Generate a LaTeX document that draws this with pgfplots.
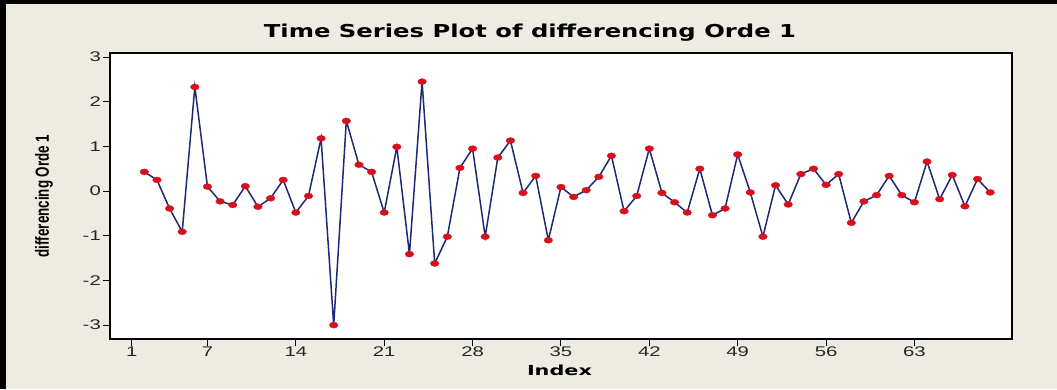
\documentclass[border=0pt]{standalone}
\usepackage{fontspec}
\setmainfont{Liberation Sans}
\newfontfamily\dejavu{DejaVu Sans}
\usepackage{pgfplots}
\pgfplotsset{compat=1.18}
\definecolor{bg}{HTML}{EEEBE2}
\definecolor{navy}{HTML}{1F2878}
\definecolor{dotred}{HTML}{D8101C}
\pgfplotstableread{
idx val
2 0.43
3 0.25
4 -0.39
5 -0.91
6 2.33
7 0.10
8 -0.23
9 -0.31
10 0.11
11 -0.35
12 -0.16
13 0.25
14 -0.48
15 -0.11
16 1.18
17 -3.00
18 1.57
19 0.59
20 0.43
21 -0.48
22 0.99
23 -1.41
24 2.45
25 -1.62
26 -1.02
27 0.52
28 0.95
29 -1.02
30 0.75
31 1.13
32 -0.04
33 0.34
34 -1.10
35 0.09
36 -0.13
37 0.02
38 0.32
39 0.79
40 -0.45
41 -0.11
42 0.95
43 -0.04
44 -0.25
45 -0.48
46 0.50
47 -0.54
48 -0.39
49 0.82
50 -0.03
51 -1.02
52 0.13
53 -0.30
54 0.38
55 0.50
56 0.14
57 0.38
58 -0.71
59 -0.23
60 -0.09
61 0.34
62 -0.09
63 -0.25
64 0.66
65 -0.18
66 0.36
67 -0.34
68 0.27
69 -0.03
}\datatable
\newcommand{\tl}[1]{\scalebox{1.45}[1]{\fontsize{14}{14}\selectfont #1}}
\begin{document}
\begin{tikzpicture}[x=1pt,y=1pt]
\fill[bg] (0,0) rectangle (1057,389);
\fill[black] (0,0) rectangle (6,389);
\fill[black] (0,385) rectangle (1057,389);
\useasboundingbox (0,0) rectangle (1057,389);
\begin{axis}[at={(110pt,50pt)}, anchor=south west, scale only axis,
  width=902pt, height=286pt,
  xmin=-0.72, xmax=70.73, ymin=-3.31, ymax=3.09,
  axis background/.style={fill=white},
  axis line style={black, line width=1.2pt},
  xtick={1,7,14,21,28,35,42,49,56,63},
  xticklabels={\tl{1},\tl{7},\tl{14},\tl{21},\tl{28},\tl{35},\tl{42},\tl{49},\tl{56},\tl{63}},
  ytick={-3,-2,-1,0,1,2,3},
  yticklabels={\tl{-3},\tl{-2},\tl{-1},\tl{0},\tl{1},\tl{2},\tl{3}},
  tick pos=left,
  tick align=outside,
  major tick length=7pt,
  tick style={black, line width=1pt},
  xticklabel style={inner sep=1pt, text=black!85},
  yticklabel style={inner sep=2pt, text=black!85},
]
\addplot[navy, line width=1.5pt, mark=*, mark size=3pt,
  mark options={xscale=1.45, fill=dotred, draw=dotred, line width=0.3pt}]
  table[x=idx, y=val] {\datatable};
\end{axis}
\node[anchor=base, inner sep=0pt] at (530,351) {\resizebox{532pt}{13.5pt}{\dejavu\bfseries Time Series Plot of differencing Orde 1}};
\node[anchor=base, inner sep=0pt] at (559.5,14) {\resizebox{65pt}{10.5pt}{\dejavu\bfseries Index}};
\node[rotate=90] at (44,193) {\scalebox{1}[1.42]{\fontsize{13.4}{13.4}\selectfont\bfseries differencing Orde 1}};
\end{tikzpicture}
\end{document}
